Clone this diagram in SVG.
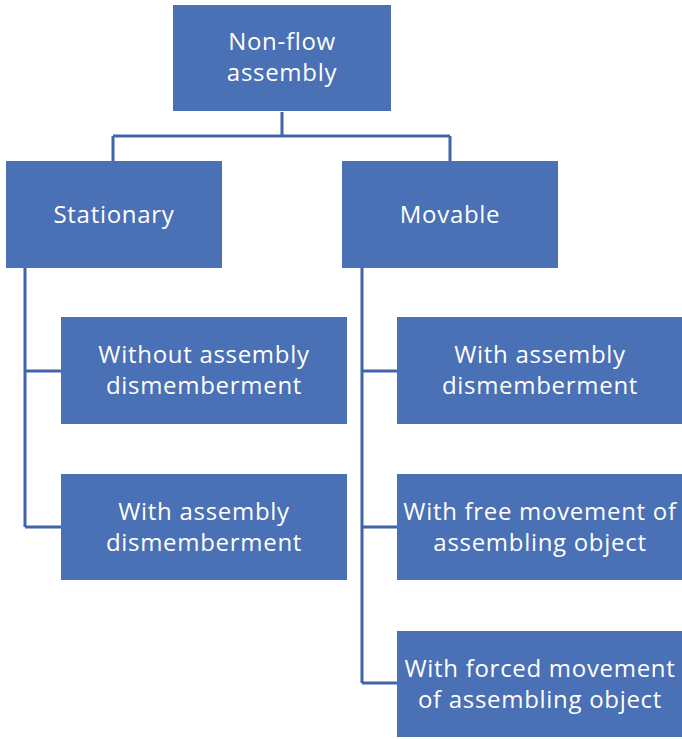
<svg xmlns="http://www.w3.org/2000/svg" width="682" height="739" viewBox="0 0 682 739">
  <style>
    .box { fill: #4a70b5; }
    .lbl { fill: #ffffff; font-family: "Open Sans", "Liberation Sans", sans-serif; font-size: 24px; letter-spacing: 0.7px; text-anchor: middle; }
    .wire { fill: none; stroke: #4165a8; stroke-width: 3; }
  </style>
  <rect width="682" height="739" fill="#ffffff"/>

  <g id="connectors">
    <path class="wire" d="M282 112 V136 M113 136 H450 M113 136 V161 M450 136 V161"/>
    <path class="wire" d="M25 268 V527 M25 371 H61 M25 527 H61"/>
    <path class="wire" d="M362 268 V683 M362 371 H397 M362 527 H397 M362 683 H397"/>
  </g>

  <g id="non-flow">
    <rect class="box" x="173" y="5" width="218" height="106"/>
    <text class="lbl" x="282" y="50">Non-flow</text>
    <text class="lbl" x="282" y="81">assembly</text>
  </g>

  <g id="stationary">
    <rect class="box" x="6" y="161" width="216" height="107"/>
    <text class="lbl" x="114" y="223">Stationary</text>
  </g>

  <g id="movable">
    <rect class="box" x="342" y="161" width="216" height="107"/>
    <text class="lbl" x="450" y="223">Movable</text>
  </g>

  <g id="without-dismemberment">
    <rect class="box" x="61" y="317" width="286" height="107"/>
    <text class="lbl" x="204" y="363">Without assembly</text>
    <text class="lbl" x="204" y="394">dismemberment</text>
  </g>

  <g id="stationary-with-dismemberment">
    <rect class="box" x="61" y="474" width="286" height="106"/>
    <text class="lbl" x="204" y="520">With assembly</text>
    <text class="lbl" x="204" y="551">dismemberment</text>
  </g>

  <g id="movable-with-dismemberment">
    <rect class="box" x="397" y="317" width="285" height="107"/>
    <text class="lbl" x="540" y="363">With assembly</text>
    <text class="lbl" x="540" y="394">dismemberment</text>
  </g>

  <g id="free-movement">
    <rect class="box" x="397" y="474" width="285" height="106"/>
    <text class="lbl" x="540" y="520">With free movement of</text>
    <text class="lbl" x="540" y="551">assembling object</text>
  </g>

  <g id="forced-movement">
    <rect class="box" x="397" y="631" width="285" height="106"/>
    <text class="lbl" x="540" y="677">With forced movement</text>
    <text class="lbl" x="540" y="708">of assembling object</text>
  </g>
</svg>
